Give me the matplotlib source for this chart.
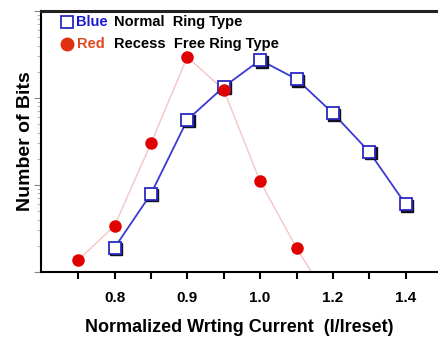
import numpy as np
import matplotlib
matplotlib.use('Agg')
import matplotlib.pyplot as plt
from matplotlib.transforms import offset_copy

plt.rcParams['font.family'] = ['Liberation Sans', 'DejaVu Sans']

# categories on the x axis (evenly spaced, not linear)
cats = ['0.75', '0.8', '0.85', '0.9', '0.95', '1.0', '1.1', '1.2', '1.3', '1.4']
tick_labels = ['', '0.8', '', '0.9', '', '1.0', '', '1.2', '', '1.4']

# Blue : Normal Ring Type (starts at 0.8)
blue_cats = ['0.8', '0.85', '0.9', '0.95', '1.0', '1.1', '1.2', '1.3', '1.4']
blue_bits = [1.9, 7.9, 56, 134, 273, 165, 67, 24, 6.0]

# Red : Recess Free Ring Type (last point falls below the axis)
red_cats = ['0.75', '0.8', '0.85', '0.9', '0.95', '1.0', '1.1', '1.2']
red_bits = [1.37, 3.4, 30, 297, 124, 11, 1.9, 0.39]

xb = [cats.index(c) for c in blue_cats]
xr = [cats.index(c) for c in red_cats]

fig = plt.figure(figsize=(4.39, 3.38), dpi=100)
ax = fig.add_axes([41/439, 66/338, 396/439, 261/338])
ax.set_yscale('log')
ax.set_ylim(1, 1000)
ax.set_xlim(-1.02, 9.86)

ax.plot(xr, red_bits, '-', color='#f6c4c4', lw=1.0, zorder=2)

shadow = offset_copy(ax.transData, fig=fig, x=1.5, y=-1.5, units='dots')
ax.plot(xb, blue_bits, '-', color='#3a3ad0', lw=1.3, zorder=4)
ax.plot(xb, blue_bits, 's', color='#101020', ms=9, mfc='#101020', transform=shadow, zorder=5)
ax.plot(xb, blue_bits, 's', ms=9, mfc='white', mec='#2a2ac0', mew=1.3, zorder=6)

ax.plot(xr, red_bits, 'o', color='#e00000', ms=8, mec='#e00000', zorder=7)

ax.set_xticks(range(len(cats)))
ax.set_xticklabels(tick_labels, fontsize=11, fontweight='bold')
ax.tick_params(axis='x', direction='out', length=5, width=1.5, pad=9)
ax.tick_params(axis='y', which='both', labelleft=False, direction='out')
ax.tick_params(axis='y', which='major', length=5, width=0.8, color='#888888')
ax.tick_params(axis='y', which='minor', length=3, width=0.6, color='#aaaaaa')

ax.spines['right'].set_visible(False)
ax.spines['top'].set_linewidth(2.2)
ax.spines['top'].set_color('#222222')
ax.spines['left'].set_linewidth(1.5)
ax.spines['bottom'].set_linewidth(1.5)

ax.set_ylabel('Number of Bits', fontsize=14, fontweight='bold', labelpad=0)
ax.set_xlabel('Normalized Wrting Current  (I/Ireset)', fontsize=13, fontweight='bold', labelpad=10)

# legend written as text
ax.plot([0.066], [0.956], 's', transform=ax.transAxes, ms=9, mfc='white', mec='#2a2ac0', mew=1.3, clip_on=False)
ax.text(0.089, 0.956, 'Blue', transform=ax.transAxes, color='#1a1ad0', fontsize=10.5, fontweight='bold', va='center')
ax.text(0.185, 0.956, 'Normal  Ring Type', transform=ax.transAxes, color='black', fontsize=10.5, fontweight='bold', va='center')
ax.plot([0.066], [0.873], 'o', transform=ax.transAxes, ms=9, color='#e03010', clip_on=False)
ax.text(0.092, 0.873, 'Red', transform=ax.transAxes, color='#e04a20', fontsize=10.5, fontweight='bold', va='center')
ax.text(0.185, 0.873, 'Recess  Free Ring Type', transform=ax.transAxes, color='black', fontsize=10.5, fontweight='bold', va='center')

fig.savefig('out.png', dpi=100)
